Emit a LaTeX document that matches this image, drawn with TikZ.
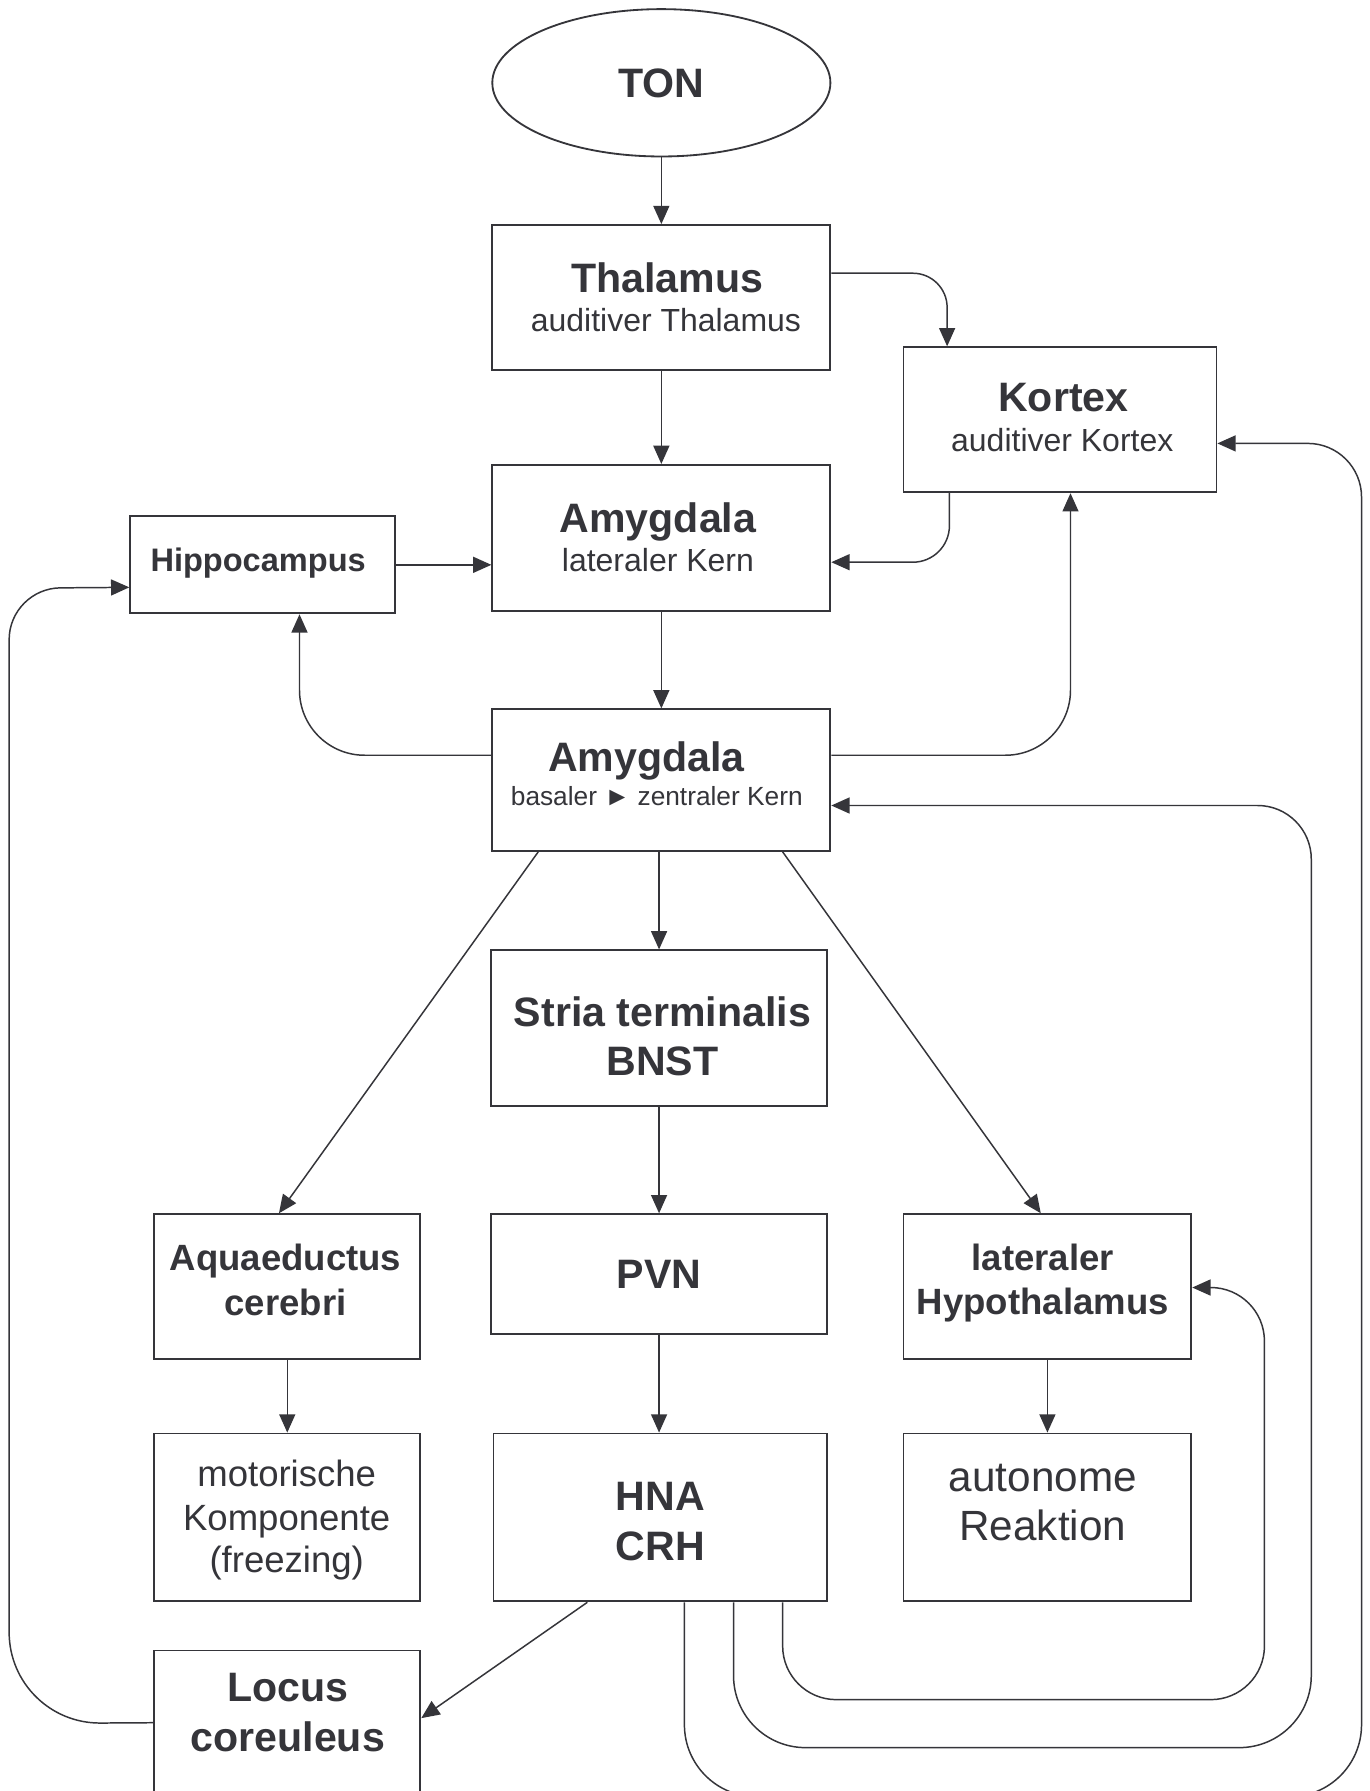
\documentclass[tikz,border=0pt]{standalone}
\usepackage{fontspec}
\setmainfont{Liberation Sans}
\usetikzlibrary{arrows.meta,calc,shapes.geometric}
\definecolor{ink}{RGB}{53,53,58}
\newcommand\ftitle{\fontsize{36}{40}\selectfont\bfseries}
\newcommand\fsubt{\fontsize{28}{32}\selectfont}
\newcommand\fmid{\fontsize{32}{36}\selectfont\bfseries}
\newcommand\fhipp{\fontsize{28.5}{32}\selectfont\bfseries}
\newcommand\freg{\fontsize{32}{36}\selectfont}
\newcommand\fauto{\fontsize{37}{40}\selectfont}
\newcommand\fsmall{\fontsize{23}{26}\selectfont}
\begin{document}
\begin{tikzpicture}[x=1pt,y=-1pt,
  box/.style={draw=ink,line width=1.6pt,inner sep=0pt,fill=white},
  txt/.style={text=ink,anchor=base,inner sep=0pt},
  arr/.style={draw=ink,line width=1.3pt,-{Triangle[length=16pt,width=14pt]}}]
\useasboundingbox (0,0) rectangle (1199,1568);
\clip (0,0) rectangle (1199,1568);
\fill[white] (0,0) rectangle (1199,1568);

% boxes
\node[box,ellipse,minimum width=296pt,minimum height=129pt] (ton) at (579,72.5) {};
\node[box,minimum width=296pt,minimum height=127pt] (thal) at (579,260.5) {};
\node[box,minimum width=274pt,minimum height=127pt] (kortex) at (928,367.5) {};
\node[box,minimum width=296pt,minimum height=128pt] (al) at (579,471) {};
\node[box,minimum width=232pt,minimum height=85pt] (hipp) at (230,494.5) {};
\node[box,minimum width=296pt,minimum height=124pt] (ab) at (579,683) {};
\node[box,minimum width=294pt,minimum height=136pt] (stria) at (577,900) {};
\node[box,minimum width=294pt,minimum height=105pt] (pvn) at (577,1115.5) {};
\node[box,minimum width=292pt,minimum height=147pt] (hna) at (578,1328.5) {};
\node[box,minimum width=233pt,minimum height=127pt] (aq) at (251.5,1126.5) {};
\node[box,minimum width=233pt,minimum height=147pt] (motor) at (251.5,1328.5) {};
\node[box,minimum width=252pt,minimum height=127pt] (lh) at (917,1126.5) {};
\node[box,minimum width=252pt,minimum height=147pt] (auto) at (917,1328.5) {};
\node[box,minimum width=233pt,minimum height=150pt] (locus) at (251.5,1520) {};

% texts
\node[txt,font=\ftitle] (tonT) at (579,85) {TON};
\node[txt,font=\ftitle] (thalT) at (584,256) {Thalamus};
\node[txt,font=\fsubt] (thalS) at (583,290) {auditiver Thalamus};
\node[txt,font=\ftitle] (kortexT) at (931,360) {Kortex};
\node[txt,font=\fsubt] (kortexS) at (930,395) {auditiver Kortex};
\node[txt,font=\ftitle] (alT) at (576,466) {Amygdala};
\node[txt,font=\fsubt] (alS) at (576,500) {lateraler Kern};
\node[txt,font=\fhipp] (hippT) at (226,500) {Hippocampus};
\node[txt,font=\ftitle] (abT) at (566,675) {Amygdala};
\node[txt,font=\fsmall] (abS) at (575,705) {basaler ► zentraler Kern};
\node[txt,font=\ftitle] (striaT) at (580,899) {Stria terminalis};
\node[txt,font=\ftitle] (striaS) at (580,942) {BNST};
\node[txt,font=\ftitle] (pvnT) at (577,1128) {PVN};
\node[txt,font=\ftitle] (hnaT) at (578,1322) {HNA};
\node[txt,font=\ftitle] (hnaS) at (578,1366) {CRH};
\node[txt,font=\fmid] (aqT) at (250,1112.5) {Aquaeductus};
\node[txt,font=\fmid] (aqS) at (250,1151.5) {cerebri};
\node[txt,font=\freg] (motorA) at (251,1301) {motorische};
\node[txt,font=\freg] (motorB) at (251,1340) {Komponente};
\node[txt,font=\freg] (motorC) at (251,1377) {(freezing)};
\node[txt,font=\fmid] (lhT) at (913,1112) {lateraler};
\node[txt,font=\fmid] (lhS) at (913,1151) {Hypothalamus};
\node[txt,font=\fauto] (autoA) at (913,1306) {autonome};
\node[txt,font=\fauto] (autoB) at (913,1349) {Reaktion};
\node[txt,font=\ftitle] (locusA) at (252,1490) {Locus};
\node[txt,font=\ftitle] (locusB) at (252,1533) {coreuleus};

% connectors
\draw[arr] (ton.south) -- (thal.north);
\draw[arr,rounded corners=30pt] ($(thal.north east)+(0,43)$) -| ($(kortex.north west)+(39,0)$);
\draw[arr] (thal.south) -- (al.north);
\draw[arr,rounded corners=32pt] ($(kortex.south west)+(41,0)$) |- ($(al.north east)+(0,86)$);
\draw[arr] (hipp.east) -- (hipp.east -| al.west);
\draw[arr] (al.south) -- (ab.north);
\draw[arr,rounded corners=57pt] ($(ab.north west)+(0,41)$) -| ($(hipp.south west)+(149,0)$);
\draw[arr,rounded corners=57pt] ($(ab.north east)+(0,41)$) -| ($(kortex.south west)+(147,0)$);
\draw[arr] (stria.north |- ab.south) -- (stria.north);
\draw[arr] ($(ab.south west)+(41,0)$) -- ($(aq.north west)+(110,0)$);
\draw[arr] ($(ab.south west)+(255,0)$) -- ($(lh.north west)+(121,0)$);
\draw[arr] (stria.south) -- (pvn.north);
\draw[arr] (pvn.south) -- (pvn.south |- hna.north);
\draw[arr] (aq.south) -- (motor.north);
\draw[arr] (lh.south) -- (auto.north);
\draw[arr] ($(hna.south west)+(83,0)$) -- ($(locus.north east)+(0,60)$);
\draw[arr] ($(locus.north west)+(0,64)$) [rounded corners=80pt] -- (8,1509) [rounded corners=45pt] -- (8,515) [sharp corners] -- ($(hipp.north west)+(0,63)$);
\draw[arr,rounded corners=47pt] ($(hna.south west)+(254,0)$) |- (1107,1488) |- ($(lh.north east)+(0,65)$);
\draw[arr,rounded corners=63pt] ($(hna.south west)+(211,0)$) |- (1148,1530) [rounded corners=47pt] |- ($(ab.north east)+(0,85)$);
\draw[arr,rounded corners=63pt] ($(hna.south west)+(168,0)$) |- (1192,1573) [rounded corners=47pt] |- ($(kortex.north east)+(0,85)$);
\end{tikzpicture}
\end{document}
